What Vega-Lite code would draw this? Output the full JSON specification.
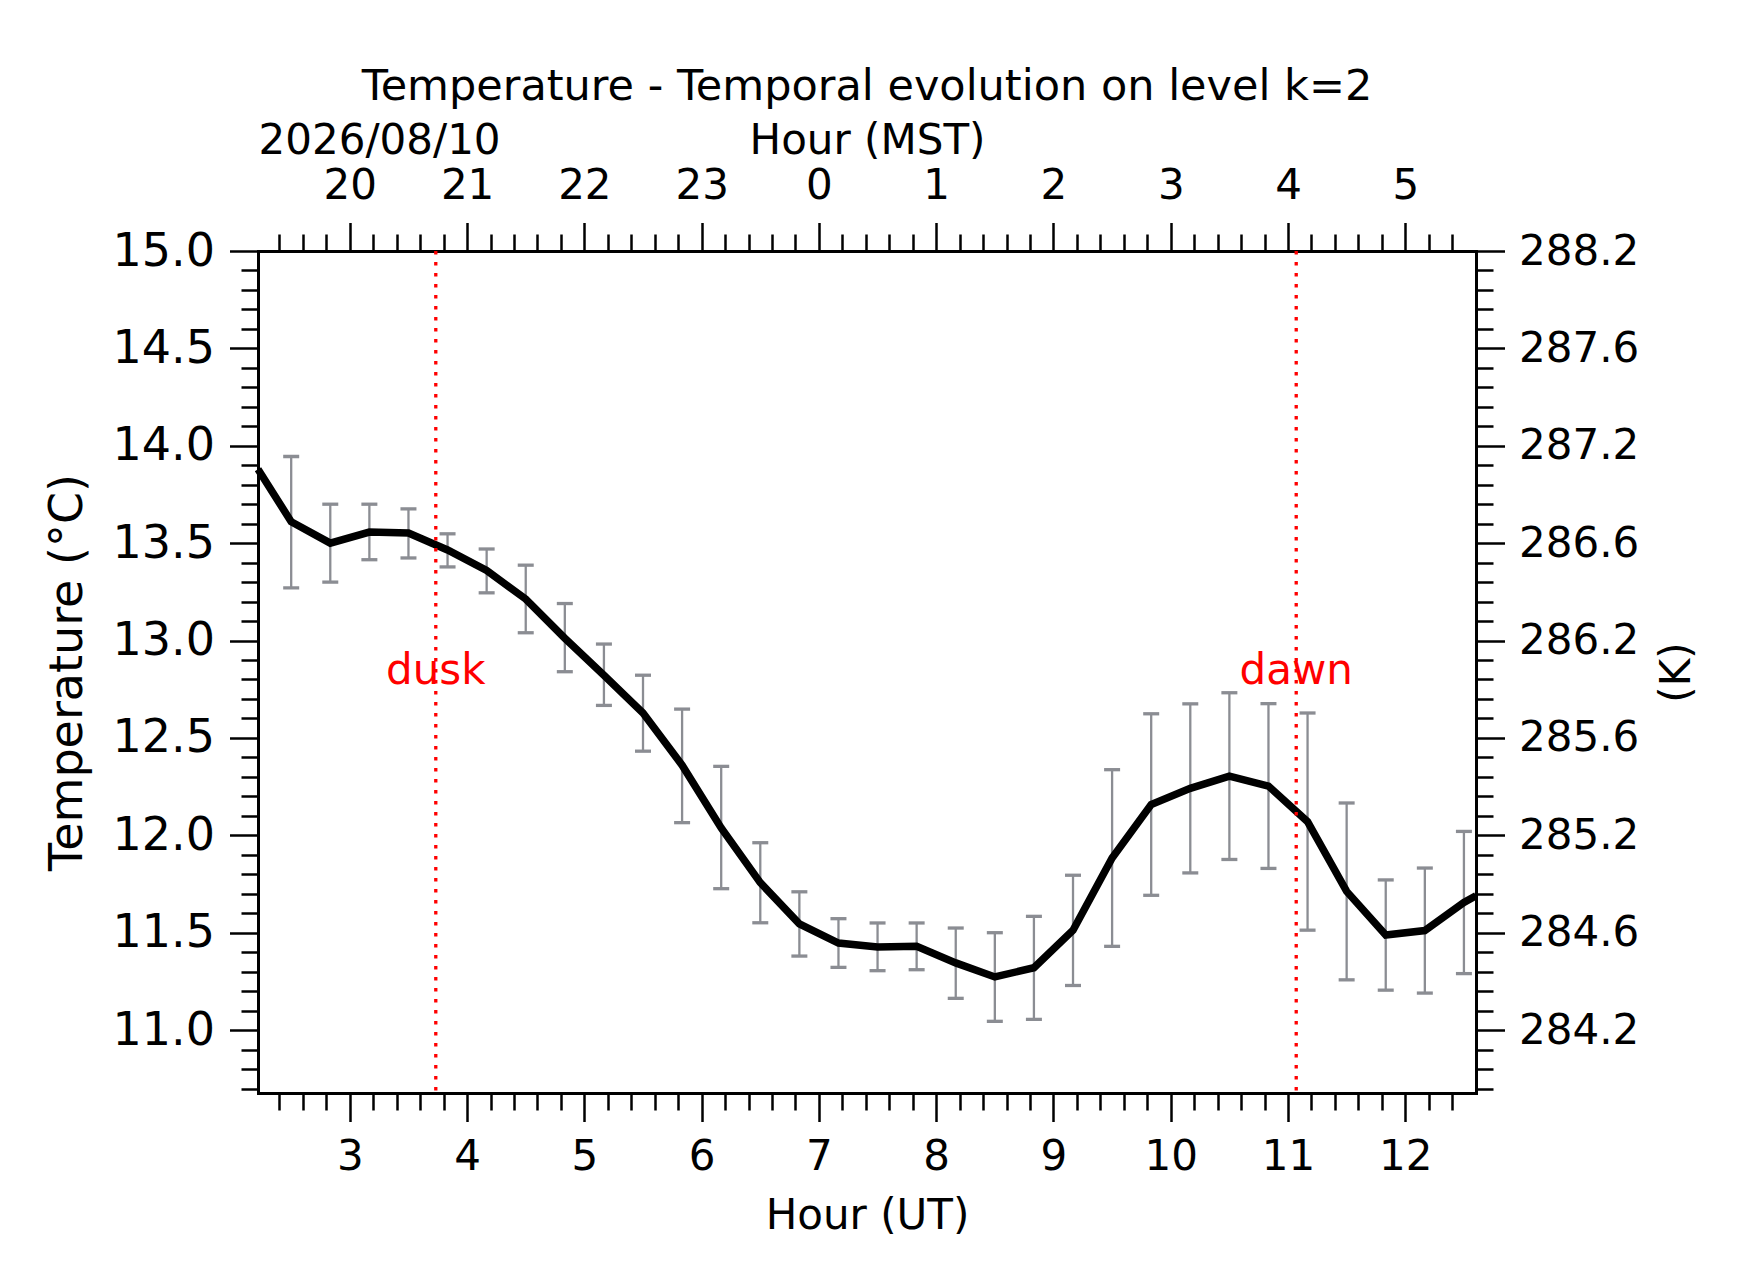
{
  "$schema": "https://vega.github.io/schema/vega-lite/v6.json",
  "autosize": "none",
  "padding": {"left": 258, "top": 251, "right": 266, "bottom": 189},
  "width": 1218,
  "height": 842,
  "background": "white",
  "title": {
    "text": "Temperature - Temporal evolution on level k=2",
    "fontSize": 43,
    "fontWeight": "normal",
    "color": "black",
    "anchor": "middle",
    "frame": "group",
    "offset": 10
  },
  "datasets": {
    "temp": [
      {"hour": 2.217, "t": 13.88},
      {"hour": 2.5, "t": 13.61, "lo": 13.27, "hi": 13.945},
      {"hour": 2.8333, "t": 13.5, "lo": 13.3, "hi": 13.7},
      {"hour": 3.1667, "t": 13.557, "lo": 13.415, "hi": 13.7},
      {"hour": 3.5, "t": 13.552, "lo": 13.424, "hi": 13.676},
      {"hour": 3.8333, "t": 13.465, "lo": 13.378, "hi": 13.548},
      {"hour": 4.1667, "t": 13.36, "lo": 13.245, "hi": 13.47},
      {"hour": 4.5, "t": 13.213, "lo": 13.04, "hi": 13.387},
      {"hour": 4.8333, "t": 13.012, "lo": 12.84, "hi": 13.19},
      {"hour": 5.1667, "t": 12.822, "lo": 12.667, "hi": 12.982},
      {"hour": 5.5, "t": 12.628, "lo": 12.432, "hi": 12.822},
      {"hour": 5.8333, "t": 12.36, "lo": 12.065, "hi": 12.648},
      {"hour": 6.1667, "t": 12.038, "lo": 11.726, "hi": 12.354},
      {"hour": 6.5, "t": 11.757, "lo": 11.551, "hi": 11.962},
      {"hour": 6.8333, "t": 11.545, "lo": 11.38, "hi": 11.71},
      {"hour": 7.1667, "t": 11.447, "lo": 11.322, "hi": 11.572},
      {"hour": 7.5, "t": 11.427, "lo": 11.305, "hi": 11.55},
      {"hour": 7.8333, "t": 11.43, "lo": 11.31, "hi": 11.55},
      {"hour": 8.1667, "t": 11.345, "lo": 11.163, "hi": 11.524},
      {"hour": 8.5, "t": 11.273, "lo": 11.045, "hi": 11.5},
      {"hour": 8.8333, "t": 11.32, "lo": 11.055, "hi": 11.584},
      {"hour": 9.1667, "t": 11.513, "lo": 11.229, "hi": 11.795},
      {"hour": 9.5, "t": 11.884, "lo": 11.43, "hi": 12.337},
      {"hour": 9.8333, "t": 12.158, "lo": 11.692, "hi": 12.624},
      {"hour": 10.1667, "t": 12.241, "lo": 11.807, "hi": 12.675},
      {"hour": 10.5, "t": 12.304, "lo": 11.876, "hi": 12.732},
      {"hour": 10.8333, "t": 12.253, "lo": 11.83, "hi": 12.676},
      {"hour": 11.1667, "t": 12.07, "lo": 11.513, "hi": 12.628},
      {"hour": 11.5, "t": 11.712, "lo": 11.258, "hi": 12.166},
      {"hour": 11.8333, "t": 11.488, "lo": 11.205, "hi": 11.771},
      {"hour": 12.1667, "t": 11.511, "lo": 11.19, "hi": 11.832},
      {"hour": 12.5, "t": 11.655, "lo": 11.29, "hi": 12.02},
      {"hour": 12.603, "t": 11.69}
    ],
    "sun": [
      {"hour": 3.733, "label": "dusk"},
      {"hour": 11.07, "label": "dawn"}
    ]
  },
  "layer": [
    {
      "data": {"name": "temp"},
      "mark": {"type": "rule", "color": "#8b8d93", "strokeWidth": 2.3},
      "encoding": {
        "x": {
          "field": "hour", "type": "quantitative",
          "scale": {"domain": [2.217, 12.603], "nice": false, "zero": false},
          "axis": {
            "orient": "bottom",
            "values": [3, 4, 5, 6, 7, 8, 9, 10, 11, 12],
            "tickSize": 28.5,
            "labelPadding": 15,
            "labelFontSize": 42,
            "title": "Hour (UT)",
            "titleFontSize": 42,
            "titleY": 102
          }
        },
        "y": {
          "field": "lo", "type": "quantitative",
          "scale": {"domain": [10.677, 15.0], "nice": false, "zero": false},
          "axis": {
            "orient": "left",
            "values": [11, 11.5, 12, 12.5, 13, 13.5, 14, 14.5, 15],
            "format": ".1f",
            "tickSize": 28.5,
            "labelPadding": 15,
            "labelFontSize": 46,
            "title": "Temperature (°C)",
            "titleFontSize": 46,
            "titlePadding": 21
          }
        },
        "y2": {"field": "hi"}
      }
    },
    {
      "data": {"name": "temp"},
      "mark": {"type": "tick", "orient": "horizontal", "color": "#8b8d93", "size": 16, "thickness": 3.3, "opacity": 1},
      "encoding": {
        "x": {
          "field": "hour", "type": "quantitative",
          "axis": {
            "orient": "bottom",
            "values": [2.4, 2.6, 2.8, 3.2, 3.4, 3.6, 3.8, 4.2, 4.4, 4.6, 4.8, 5.2, 5.4, 5.6, 5.8, 6.2, 6.4, 6.6, 6.8, 7.2, 7.4, 7.6, 7.8, 8.2, 8.4, 8.6, 8.8, 9.2, 9.4, 9.6, 9.8, 10.2, 10.4, 10.6, 10.8, 11.2, 11.4, 11.6, 11.8, 12.2, 12.4],
            "labels": false,
            "domain": false,
            "tickSize": 17,
            "title": null
          }
        },
        "y": {
          "field": "lo", "type": "quantitative",
          "axis": {
            "orient": "left",
            "values": [10.7, 10.8, 10.9, 11.1, 11.2, 11.3, 11.4, 11.6, 11.7, 11.8, 11.9, 12.1, 12.2, 12.3, 12.4, 12.6, 12.7, 12.8, 12.9, 13.1, 13.2, 13.3, 13.4, 13.6, 13.7, 13.8, 13.9, 14.1, 14.2, 14.3, 14.4, 14.6, 14.7, 14.8, 14.9],
            "labels": false,
            "domain": false,
            "tickSize": 17,
            "title": null
          }
        }
      }
    },
    {
      "data": {"name": "temp"},
      "mark": {"type": "tick", "orient": "horizontal", "color": "#8b8d93", "size": 16, "thickness": 3.3, "opacity": 1},
      "encoding": {
        "x": {
          "field": "hour", "type": "quantitative",
          "axis": {
            "orient": "top",
            "values": [2.4, 2.6, 2.8, 3.2, 3.4, 3.6, 3.8, 4.2, 4.4, 4.6, 4.8, 5.2, 5.4, 5.6, 5.8, 6.2, 6.4, 6.6, 6.8, 7.2, 7.4, 7.6, 7.8, 8.2, 8.4, 8.6, 8.8, 9.2, 9.4, 9.6, 9.8, 10.2, 10.4, 10.6, 10.8, 11.2, 11.4, 11.6, 11.8, 12.2, 12.4],
            "labels": false,
            "domain": false,
            "tickSize": 17,
            "title": "2026/08/10",
            "titleFontSize": 42,
            "titleAnchor": "start",
            "titleAlign": "left",
            "titleX": 0,
            "titleY": -89
          }
        },
        "y": {
          "field": "hi", "type": "quantitative",
          "axis": {
            "orient": "right",
            "values": [10.7, 10.8, 10.9, 11.1, 11.2, 11.3, 11.4, 11.6, 11.7, 11.8, 11.9, 12.1, 12.2, 12.3, 12.4, 12.6, 12.7, 12.8, 12.9, 13.1, 13.2, 13.3, 13.4, 13.6, 13.7, 13.8, 13.9, 14.1, 14.2, 14.3, 14.4, 14.6, 14.7, 14.8, 14.9],
            "labels": false,
            "domain": false,
            "tickSize": 17,
            "title": null
          }
        }
      }
    },
    {
      "data": {"name": "temp"},
      "mark": {"type": "line", "color": "black", "strokeWidth": 7.5},
      "encoding": {
        "x": {
          "field": "hour", "type": "quantitative",
          "axis": {
            "orient": "top",
            "values": [3, 4, 5, 6, 7, 8, 9, 10, 11, 12],
            "labelExpr": "(datum.value + 17) % 24",
            "tickSize": 28.5,
            "labelPadding": 15,
            "labelFontSize": 42,
            "title": "Hour (MST)",
            "titleFontSize": 42,
            "titleY": -89
          }
        },
        "y": {
          "field": "t", "type": "quantitative",
          "axis": {
            "orient": "right",
            "values": [11, 11.5, 12, 12.5, 13, 13.5, 14, 14.5, 15],
            "labelExpr": "format(datum.value + 273.15 + (datum.value % 1 == 0 ? 0.01 : -0.01), '.1f')",
            "tickSize": 28.5,
            "labelPadding": 14,
            "labelFontSize": 42,
            "title": "(K)",
            "titleFontSize": 42,
            "titleAngle": -90,
            "titleBaseline": "top",
            "titlePadding": 18
          }
        }
      }
    },
    {
      "data": {"name": "sun"},
      "mark": {"type": "rule", "color": "#ff0000", "strokeWidth": 3.3, "strokeDash": [3.5, 7.5]},
      "encoding": {
        "x": {"field": "hour", "type": "quantitative", "axis": null}
      }
    },
    {
      "data": {"name": "sun"},
      "mark": {"type": "text", "color": "#ff0000", "fontSize": 42, "align": "center", "baseline": "alphabetic"},
      "encoding": {
        "x": {"field": "hour", "type": "quantitative", "axis": null},
        "y": {"datum": 12.778, "type": "quantitative", "axis": null},
        "text": {"field": "label"}
      }
    }
  ],
  "resolve": {"axis": {"x": "independent", "y": "independent"}},
  "config": {
    "font": "DejaVu Sans",
    "view": {"stroke": null},
    "axis": {
      "grid": false,
      "domainColor": "black",
      "domainWidth": 3,
      "domainCap": "square",
      "tickColor": "black",
      "tickWidth": 2.5,
      "labelColor": "black",
      "labelFont": "DejaVu Sans",
      "labelFlush": false,
      "labelOverlap": false,
      "titleColor": "black",
      "titleFont": "DejaVu Sans",
      "titleFontWeight": "normal"
    }
  }
}
